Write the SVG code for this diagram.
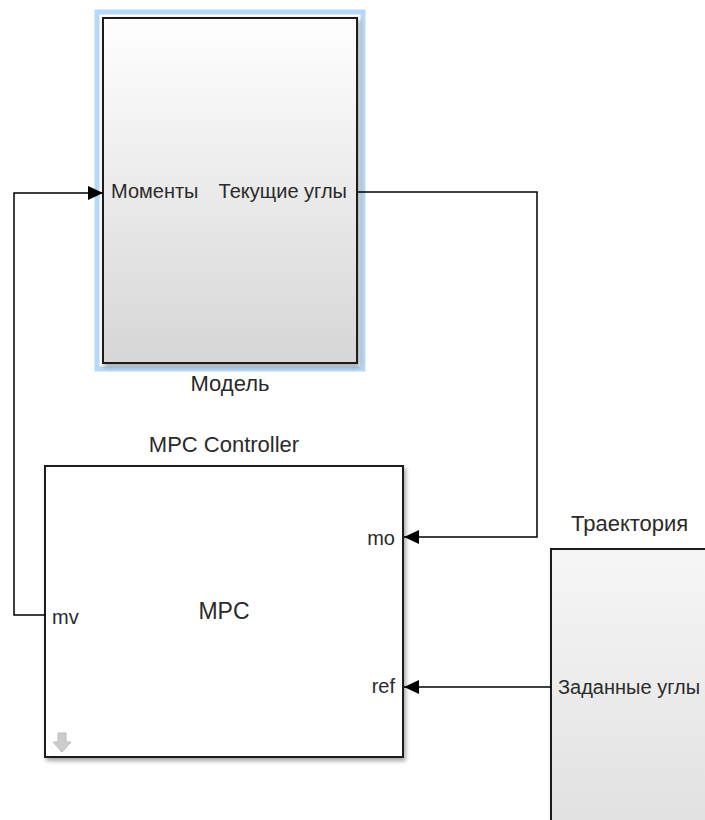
<svg xmlns="http://www.w3.org/2000/svg" width="705" height="820" viewBox="0 0 705 820">
<defs>
<linearGradient id="g" x1="0" y1="0" x2="0" y2="1">
<stop offset="0" stop-color="#ffffff"/>
<stop offset="1" stop-color="#d6d6d6"/>
</linearGradient>
<linearGradient id="g2" x1="0" y1="0" x2="0" y2="1">
<stop offset="0" stop-color="#f6f6f6"/>
<stop offset="1" stop-color="#e0e0e0"/>
</linearGradient>
<filter id="sh" x="-5%" y="-5%" width="112%" height="112%">
<feGaussianBlur in="SourceAlpha" stdDeviation="2"/>
<feOffset dx="2" dy="3"/>
<feComponentTransfer><feFuncA type="linear" slope="0.35"/></feComponentTransfer>
<feMerge><feMergeNode/><feMergeNode in="SourceGraphic"/></feMerge>
</filter>
<marker id="ah" markerWidth="15" markerHeight="14" refX="15" refY="7" orient="auto" markerUnits="userSpaceOnUse">
<path d="M0,0 L15,7 L0,14 Z" fill="#000"/>
</marker>
</defs>
<style>
.blk{stroke:#1a1a1a;stroke-width:2}
.t{font-family:"Liberation Sans",Arial,sans-serif;fill:#2a2a2a}
.port{font-size:20px}
.title{font-size:22px}
.wire{fill:none;stroke:#000;stroke-width:1.5}
</style>
<rect width="705" height="820" fill="#fff"/>
<g id="model">
<rect x="97" y="12" width="266" height="357" fill="none" stroke="#b8d8f8" stroke-width="5"/>
<rect class="blk" x="103" y="18" width="254" height="345" fill="url(#g)" filter="url(#sh)"/>
<text class="t port" x="111" y="198">Моменты</text>
<text class="t port" x="347" y="198" text-anchor="end">Текущие углы</text>
<text class="t title" x="230" y="391" text-anchor="middle">Модель</text>
</g>
<g id="mpc">
<rect class="blk" x="45" y="466" width="358" height="291" fill="#fff" filter="url(#sh)"/>
<text class="t title" x="224" y="452" text-anchor="middle">MPC Controller</text>
<text class="t" x="224" y="619" text-anchor="middle" font-size="23">MPC</text>
<text class="t port" x="52" y="624">mv</text>
<text class="t port" x="395" y="545" text-anchor="end">mo</text>
<text class="t port" x="395" y="693" text-anchor="end">ref</text>
<path d="M58,733 h8 v9 h5 l-9,10 l-9,-10 h5 z" fill="#ccc" stroke="#bbb" stroke-width="1"/>
</g>
<g id="trajectory">
<rect class="blk" x="551" y="549" width="170" height="290" fill="url(#g2)" filter="url(#sh)"/>
<text class="t title" x="571" y="531">Траектория</text>
<text class="t port" x="558" y="694">Заданные углы</text>
</g>
<g id="connectors">
<path class="wire" d="M45,615 H14 V193 H103" marker-end="url(#ah)"/>
<path class="wire" d="M357,192 H537 V537 H404" marker-end="url(#ah)"/>
<path class="wire" d="M551,687 H404" marker-end="url(#ah)"/>
</g>
</svg>
